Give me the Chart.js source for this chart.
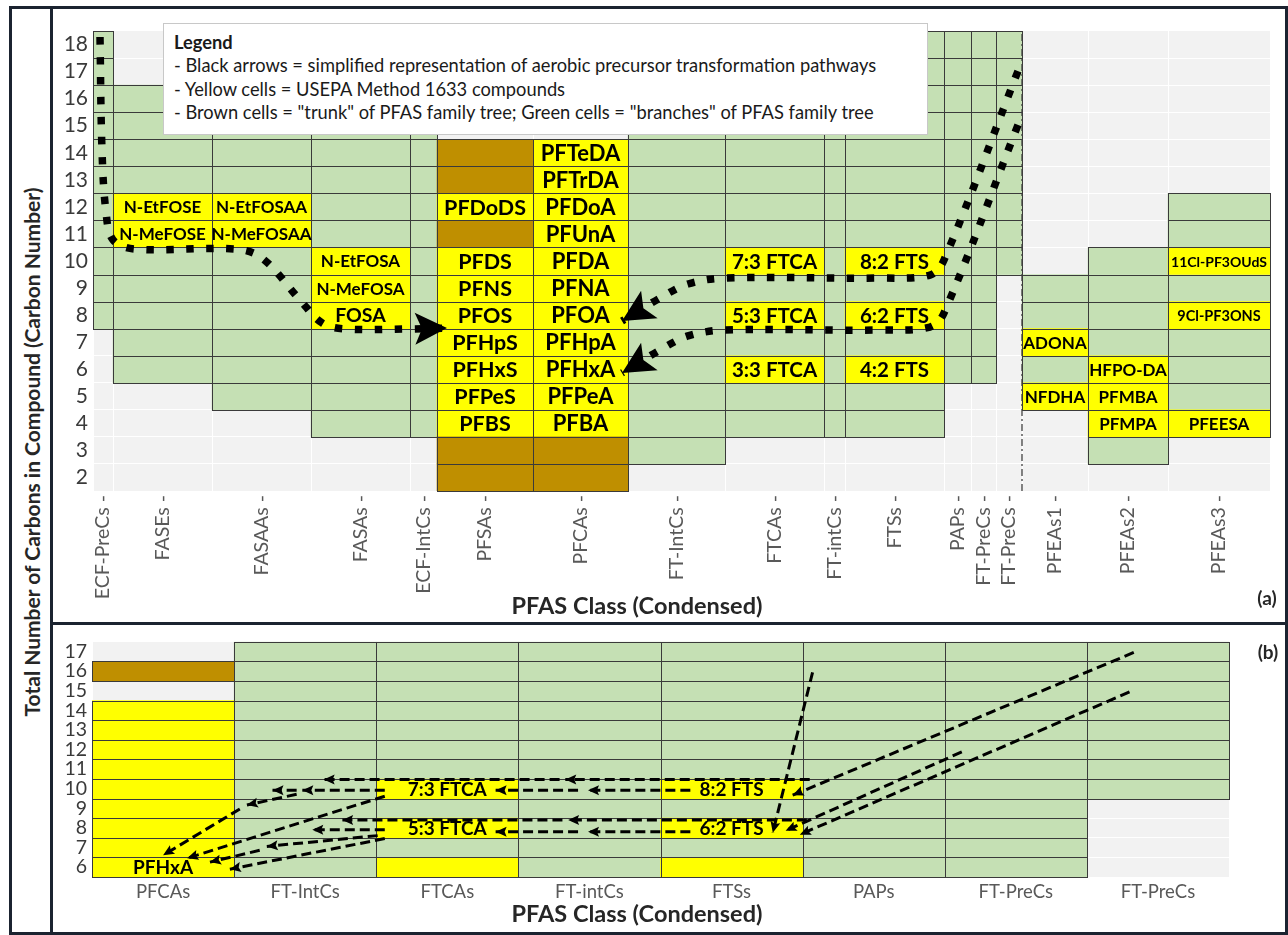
<!DOCTYPE html>
<html>
<head>
<meta charset="utf-8">
<title>PFAS family tree by carbon number</title>
<script src="https://cdn.jsdelivr.net/npm/chart.js@4/dist/chart.umd.min.js"></script>
<style>
  html, body { margin: 0; padding: 0; background: #fff; }
  #page { position: relative; width: 1288px; height: 935px; overflow: hidden; font-family: Lato, "Open Sans", sans-serif; }
  canvas { position: absolute; }
  .rule { position: absolute; background: #1b2330; }
  .txt { position: absolute; white-space: nowrap; color: #262626; font-weight: 700; transform: translate(-50%, -50%); }
  #note { position: absolute; left: 163px; top: 23px; width: 765px; height: 112px; box-sizing: border-box;
          background: #fff; border: 1px solid #c8c8c8; padding: 7px 0 0 10px; font-size: 18.3px; line-height: 23.3px; color: #1a1a1a; z-index: 2; white-space: nowrap; }
</style>
</head>
<body>
<div id="page">
  <canvas id="panelA" width="1232" height="612" style="left:53px;top:9px"></canvas>
  <canvas id="panelB" width="1232" height="307" style="left:53px;top:625px"></canvas>

  <div class="rule" style="left:9px;top:6px;width:1279px;height:3px"></div>
  <div class="rule" style="left:9px;top:932px;width:1279px;height:3px"></div>
  <div class="rule" style="left:9px;top:6px;width:3px;height:929px"></div>
  <div class="rule" style="left:1285px;top:6px;width:3px;height:929px"></div>
  <div class="rule" style="left:50px;top:6px;width:3px;height:929px"></div>
  <div class="rule" style="left:50px;top:622px;width:1238px;height:3px"></div>

  <div class="txt" style="left:31px;top:452px;font-size:21px;transform:translate(-50%,-50%) rotate(-90deg)">Total Number of Carbons in Compound (Carbon Number)</div>
  <div class="txt" style="left:637px;top:605px;font-size:23.5px">PFAS Class (Condensed)</div>
  <div class="txt" style="left:637px;top:913px;font-size:23.5px">PFAS Class (Condensed)</div>
  <div class="txt" style="left:1267px;top:597px;font-size:19px">(a)</div>
  <div class="txt" style="left:1268px;top:651px;font-size:19px">(b)</div>

  <div id="note"><b>Legend</b><br>- Black arrows = simplified representation of aerobic precursor transformation pathways<br>- Yellow cells = USEPA Method 1633 compounds<br>- Brown cells = "trunk" of PFAS family tree; Green cells = "branches" of PFAS family tree</div>
</div>

<script>
// ---------- Panel (a): condensed PFAS classes ----------
const classesA = ['ECF-PreCs', 'FASEs', 'FASAAs', 'FASAs', 'ECF-IntCs', 'PFSAs', 'PFCAs', 'FT-IntCs',
                  'FTCAs', 'FT-intCs', 'FTSs', 'PAPs', 'FT-PreCs', 'FT-PreCs', 'PFEAs1', 'PFEAs2', 'PFEAs3'];
// relative width of each class column
const classSpanA = [20, 99, 99, 99, 27, 96, 95, 97, 99, 21, 99, 27, 25, 26, 66, 80, 102];
// carbon-number range covered by each class
const lowCarbonA  = [8, 6, 5, 4, 4, 2, 2, 3, 4, 4, 4, 6, 6, 10, 5, 3, 4];
const highCarbonA = [18, 16, 16, 16, 16, 14, 14, 18, 18, 18, 18, 18, 18, 18, 9, 10, 12];
const carbonTicksA = [2, 3, 4, 5, 6, 7, 8, 9, 10, 11, 12, 13, 14, 15, 16, 17, 18];
// "trunk" cells [class index, carbon number]
const trunkA = [[5, 2], [5, 3], [5, 11], [5, 13], [5, 14], [6, 2], [6, 3]];
// USEPA Method 1633 compounds [class index, carbon number, name]
const method1633A = [
  [1, 12, 'N-EtFOSE'], [1, 11, 'N-MeFOSE'],
  [2, 12, 'N-EtFOSAA'], [2, 11, 'N-MeFOSAA'],
  [3, 10, 'N-EtFOSA'], [3, 9, 'N-MeFOSA'], [3, 8, 'FOSA'],
  [5, 12, 'PFDoDS'], [5, 10, 'PFDS'], [5, 9, 'PFNS'], [5, 8, 'PFOS'], [5, 7, 'PFHpS'],
  [5, 6, 'PFHxS'], [5, 5, 'PFPeS'], [5, 4, 'PFBS'],
  [6, 14, 'PFTeDA'], [6, 13, 'PFTrDA'], [6, 12, 'PFDoA'], [6, 11, 'PFUnA'], [6, 10, 'PFDA'],
  [6, 9, 'PFNA'], [6, 8, 'PFOA'], [6, 7, 'PFHpA'], [6, 6, 'PFHxA'], [6, 5, 'PFPeA'], [6, 4, 'PFBA'],
  [8, 10, '7:3 FTCA'], [8, 8, '5:3 FTCA'], [8, 6, '3:3 FTCA'],
  [10, 10, '8:2 FTS'], [10, 8, '6:2 FTS'], [10, 6, '4:2 FTS'],
  [14, 7, 'ADONA'], [14, 5, 'NFDHA'],
  [15, 6, 'HFPO-DA'], [15, 5, 'PFMBA'], [15, 4, 'PFMPA'],
  [16, 10, '11Cl-PF3OUdS'], [16, 8, '9Cl-PF3ONS'], [16, 4, 'PFEESA']
];
// fluorotelomer / ether classes are split after this class index
const separatorAfterA = 13;
// transformation pathways [column position, carbon number]
const ecfPathA = [[7, 18.28], [9, 14.10], [13, 11.81], [20, 10.78], [42, 10.44], [142, 10.44], [169, 10.11],
                  [207, 8.56], [229, 7.71], [252, 7.49], [319, 7.49], [354, 7.52]];
const ftUpperPathA = [[925, 17.02], [851, 10.04], [837, 9.48], [787, 9.37], [632, 9.37], [595, 9.15], [567, 8.63], [529, 7.78]];
const ftLowerPathA = [[925, 15.03], [851, 8.08], [837, 7.56], [787, 7.45], [632, 7.45], [595, 7.23], [567, 6.71], [529, 5.86]];

// ---------- Panel (b): fluorotelomer detail ----------
const classesB = ['PFCAs', 'FT-IntCs', 'FTCAs', 'FT-intCs', 'FTSs', 'PAPs', 'FT-PreCs', 'FT-PreCs'];
const lowCarbonB  = [6, 6, 6, 6, 6, 6, 6, 10];
const highCarbonB = [14, 17, 17, 17, 17, 17, 17, 17];
const carbonTicksB = [6, 7, 8, 9, 10, 11, 12, 13, 14, 15, 16, 17];
const trunkB = [[0, 16]];
const method1633B = [
  [0, 6, 'PFHxA'], [0, 7, ''], [0, 8, ''], [0, 9, ''], [0, 10, ''], [0, 11, ''], [0, 12, ''], [0, 13, ''], [0, 14, ''],
  [2, 10, '7:3 FTCA'], [2, 8, '5:3 FTCA'], [2, 6, ''],
  [4, 10, '8:2 FTS'], [4, 8, '6:2 FTS'], [4, 6, '']
];
// dashed pathways [x0, carbon0, x1, carbon1], arrowhead at the second point
const dashedArrowsB = [
  [5.05, 10.47, 3.33, 10.47], [3.29, 10.47, 1.63, 10.47],
  [4.21, 9.92, 3.49, 9.92], [3.42, 9.92, 2.84, 9.92],
  [2.06, 9.92, 1.48, 9.92], [1.44, 9.92, 1.27, 9.92],
  [1.44, 9.72, 1.09, 9.17], [1.04, 8.97, 0.50, 6.61], [2.06, 9.62, 0.67, 6.46],
  [5.03, 8.41, 3.35, 8.41], [3.31, 8.41, 1.76, 8.41],
  [4.21, 7.81, 3.49, 7.81], [3.42, 7.81, 2.84, 7.81],
  [2.06, 7.91, 1.55, 7.91], [2.01, 7.61, 1.23, 7.06],
  [1.18, 6.86, 0.83, 6.26], [2.06, 7.46, 0.97, 5.90],
  [5.07, 15.94, 4.79, 7.76], [7.33, 16.95, 4.93, 9.67],
  [7.30, 14.94, 4.98, 7.66], [6.12, 11.88, 4.88, 7.86]
];

// ---------- styling ----------
const GREEN = '#c5e0b4', YELLOW = '#ffff00', BROWN = '#bf8f00';
const PLOT_BG = '#f2f2f2', CELL_LINE = '#3a3a3a';
const FAMILY = 'Lato';
const labelSizeA = { 5: 21.5, 6: 22, 8: 20.5, 10: 20.5 };
const labelSizeByName = { 'FOSA': 19.5, '11Cl-PF3OUdS': 14, '9Cl-PF3ONS': 14.5 };
const tickSuffixA = ' -';

function edgesFrom(spans) {
  const e = [0];
  spans.forEach(s => e.push(e[e.length - 1] + s));
  return e;
}

function buildCells(nCols, low, high, trunk, named, left, right) {
  const key = (c, n) => c + ':' + n;
  const trunkSet = new Set(trunk.map(([c, n]) => key(c, n)));
  const namedSet = new Set(named.map(([c, n]) => key(c, n)));
  const green = [], yellow = [], brown = [];
  for (let c = 0; c < nCols; c++) {
    for (let n = low[c]; n <= high[c]; n++) {
      const cell = { x: [left(c), right(c)], y: n };
      if (trunkSet.has(key(c, n))) brown.push(cell);
      else if (namedSet.has(key(c, n))) yellow.push(cell);
      else green.push(cell);
    }
  }
  trunk.forEach(([c, n]) => {
    if (n < low[c] || n > high[c]) brown.push({ x: [left(c), right(c)], y: n });
  });
  return { green, yellow, brown };
}

function cellDatasets(cells) {
  const base = { indexAxis: 'y', grouped: false, barPercentage: 1, categoryPercentage: 1, borderWidth: 0, xAxisID: 'x', yAxisID: 'y' };
  return [
    Object.assign({ data: cells.green, backgroundColor: GREEN, order: 5 }, base),
    Object.assign({ data: cells.yellow, backgroundColor: YELLOW, order: 4 }, base),
    Object.assign({ data: cells.brown, backgroundColor: BROWN, order: 3, topCellLayer: true }, base)
  ];
}

function pathDataset(points, style) {
  return Object.assign({
    type: 'line', data: points.map(([x, y]) => ({ x, y })), xAxisID: 'x', yAxisID: 'y',
    pointRadius: 0, pointHoverRadius: 0, fill: false, order: 1, borderColor: '#000', borderCapStyle: 'butt'
  }, style);
}

const dottedStyle = { borderWidth: 7.5, borderDash: [7.5, 12.5], tension: 0.35, head: { len: 32, half: 16, notch: 7 } };
const dashedStyle = { borderWidth: 3, borderDash: [10, 5], tension: 0, head: { len: 11, half: 5, notch: 2 } };

// ---------- plugins ----------
const plotBackground = {
  id: 'plotBackground',
  beforeDraw(chart) {
    const { ctx, chartArea: a } = chart;
    ctx.save();
    ctx.fillStyle = PLOT_BG;
    ctx.fillRect(a.left, a.top, a.right - a.left, a.bottom - a.top);
    ctx.restore();
  }
};

function cellLayer(labels, centerOf, sizeOf) {
  return {
    id: 'cellLayer',
    afterDatasetDraw(chart, args) {
      if (!chart.data.datasets[args.index].topCellLayer) return;
      const ctx = chart.ctx;
      ctx.save();
      ctx.strokeStyle = CELL_LINE;
      ctx.lineWidth = 1;
      chart.data.datasets.forEach((ds, i) => {
        const meta = chart.getDatasetMeta(i);
        if (meta.type !== 'bar') return;
        meta.data.forEach(bar => {
          const p = bar.getProps(['x', 'y', 'base', 'height'], true);
          const l = Math.round(Math.min(p.x, p.base)), r = Math.round(Math.max(p.x, p.base));
          const t = Math.round(p.y - p.height / 2), b = Math.round(p.y + p.height / 2);
          ctx.strokeRect(l + 0.5, t + 0.5, r - l, b - t);
        });
      });
      ctx.fillStyle = '#000';
      ctx.textAlign = 'center';
      ctx.textBaseline = 'middle';
      const xs = chart.scales.x, ys = chart.scales.y;
      labels.forEach(([col, carbon, text]) => {
        if (!text) return;
        ctx.font = 'bold ' + sizeOf(col, text) + 'px ' + FAMILY;
        ctx.fillText(text, xs.getPixelForValue(centerOf(col)), ys.getPixelForValue(carbon) + 1);
      });
      ctx.restore();
    }
  };
}

const arrowHeads = {
  id: 'arrowHeads',
  afterDatasetDraw(chart, args) {
    const head = chart.data.datasets[args.index].head;
    if (!head) return;
    const pts = args.meta.data, n = pts.length;
    const tip = pts[n - 1], from = pts[n - 2];
    const ang = Math.atan2(tip.y - from.y, tip.x - from.x);
    const ctx = chart.ctx;
    ctx.save();
    ctx.translate(tip.x, tip.y);
    ctx.rotate(ang);
    ctx.beginPath();
    ctx.moveTo(0, 0);
    ctx.lineTo(-head.len, -head.half);
    ctx.lineTo(-head.len + head.notch, 0);
    ctx.lineTo(-head.len, head.half);
    ctx.closePath();
    ctx.fillStyle = '#000';
    ctx.fill();
    ctx.restore();
  }
};

function scalesFor(opts) {
  return {
    x: {
      type: 'linear', min: 0, max: opts.xMax, offset: false,
      grid: { display: false, drawTicks: false, offset: false }, border: { display: false },
      afterBuildTicks: s => { s.ticks = opts.centers.map(v => ({ value: v })); },
      afterFit: s => { s.height = opts.xHeight; },
      ticks: {
        autoSkip: false, minRotation: opts.rotation, maxRotation: opts.rotation, padding: opts.xPad,
        color: '#595959', font: { family: FAMILY, size: opts.xFont },
        callback: (v, i) => opts.names[i] + opts.suffix
      }
    },
    xEdge: {
      type: 'linear', position: 'bottom', min: 0, max: opts.xMax, offset: false,
      grid: { color: '#ffffff', lineWidth: 1, drawTicks: false, offset: false }, border: { display: false },
      ticks: { display: false },
      afterBuildTicks: s => { s.ticks = opts.edges.map(v => ({ value: v })); },
      afterFit: s => { s.height = 0; }
    },
    y: {
      type: 'linear', min: opts.yMin, max: opts.yMax, offset: false, beginAtZero: false,
      grid: { color: '#ffffff', lineWidth: 1, offset: true, drawTicks: false }, border: { display: false },
      afterBuildTicks: s => { s.ticks = opts.yTicks.map(v => ({ value: v })); },
      afterFit: s => { s.width = opts.yWidth; },
      ticks: { autoSkip: false, padding: 5, color: '#3a3a3a', font: { family: FAMILY, size: opts.yFont } }
    }
  };
}

// ---------- panel (a) ----------
const edgesA = edgesFrom(classSpanA);
const centersA = classSpanA.map((s, i) => edgesA[i] + s / 2);
const cellsA = buildCells(classesA.length, lowCarbonA, highCarbonA, trunkA, method1633A,
                          c => edgesA[c], c => edgesA[c + 1]);
const sepX = edgesA[separatorAfterA + 1];

new Chart(document.getElementById('panelA'), {
  type: 'bar',
  data: {
    datasets: [
      ...cellDatasets(cellsA),
      pathDataset([[sepX, 1.5], [sepX, 18.5]], { borderWidth: 1.3, borderColor: '#404040', borderDash: [7, 3, 2, 3], order: 2, tension: 0 }),
      pathDataset(ecfPathA, dottedStyle),
      pathDataset(ftUpperPathA, dottedStyle),
      pathDataset(ftLowerPathA, dottedStyle)
    ]
  },
  options: {
    responsive: false, animation: false, events: [],
    layout: { padding: { top: 22, right: 15, left: 0, bottom: 0 } },
    plugins: { legend: { display: false }, tooltip: { enabled: false } },
    scales: scalesFor({
      xMax: edgesA[edgesA.length - 1], centers: centersA, edges: edgesA, names: classesA, suffix: tickSuffixA,
      rotation: 90, xPad: 4, xFont: 19.5, xHeight: 130,
      yMin: 1.5, yMax: 18.5, yTicks: carbonTicksA, yWidth: 40, yFont: 21
    })
  },
  plugins: [plotBackground,
            cellLayer(method1633A, c => centersA[c], (c, t) => labelSizeByName[t] || labelSizeA[c] || 17),
            arrowHeads]
});

// ---------- panel (b) ----------
const edgesB = classesB.map((_, i) => i).concat([classesB.length]);
const centersB = classesB.map((_, i) => i + 0.5);
const cellsB = buildCells(classesB.length, lowCarbonB, highCarbonB, trunkB, method1633B, c => c, c => c + 1);

new Chart(document.getElementById('panelB'), {
  type: 'bar',
  data: {
    datasets: [
      ...cellDatasets(cellsB),
      ...dashedArrowsB.map(([x0, y0, x1, y1]) => pathDataset([[x0, y0], [x1, y1]], dashedStyle))
    ]
  },
  options: {
    responsive: false, animation: false, events: [],
    layout: { padding: { top: 13, right: 56, left: 0, bottom: 0 } },
    plugins: { legend: { display: false }, tooltip: { enabled: false } },
    scales: scalesFor({
      xMax: classesB.length, centers: centersB, edges: edgesB, names: classesB, suffix: '',
      rotation: 0, xPad: 4, xFont: 18.5, xHeight: 55,
      yMin: 5.5, yMax: 17.5, yTicks: carbonTicksB, yWidth: 39, yFont: 19.5
    })
  },
  plugins: [plotBackground, cellLayer(method1633B, c => c + 0.5, () => 19), arrowHeads]
});
</script>
</body>
</html>
